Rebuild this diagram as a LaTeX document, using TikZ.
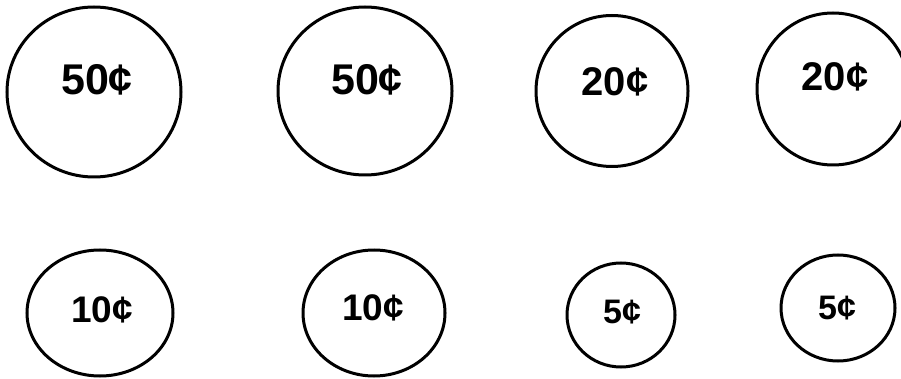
\documentclass[tikz,border=0pt]{standalone}
\usepackage{fontspec}
\setmainfont{Liberation Sans}
\usetikzlibrary{shapes.geometric}
\tikzset{
  coin/.style={draw=black, line width=3pt, ellipse, inner sep=0pt},
  val/.style={font=\bfseries, inner sep=0pt, text=black}
}
\begin{document}
\begin{tikzpicture}[x=1pt,y=-1pt]
\useasboundingbox[fill=white] (0,0) rectangle (901,379);
% top row
\node[coin, minimum width=174pt, minimum height=170pt] (c1) at (94,92) {};
\node[val, font=\fontsize{43}{43}\bfseries\selectfont] (t1) at (97,80) {50¢};
\node[coin, minimum width=174pt, minimum height=168pt] (c2) at (365,91) {};
\node[val, font=\fontsize{43}{43}\bfseries\selectfont] (t2) at (367,80) {50¢};
\node[coin, minimum width=152pt, minimum height=151pt] (c3) at (612,91) {};
\node[val, font=\fontsize{40}{40}\bfseries\selectfont] (t3) at (615,82) {20¢};
\node[coin, minimum width=152pt, minimum height=152pt] (c4) at (833,89) {};
\node[val, font=\fontsize{40}{40}\bfseries\selectfont] (t4) at (835,77) {20¢};
% bottom row
\node[coin, minimum width=146pt, minimum height=126pt] (c5) at (100,313) {};
\node[val, font=\fontsize{37}{37}\bfseries\selectfont] (t5) at (102,310) {10¢};
\node[coin, minimum width=142pt, minimum height=126pt] (c6) at (374,313) {};
\node[val, font=\fontsize{37}{37}\bfseries\selectfont] (t6) at (373,308) {10¢};
\node[coin, minimum width=108pt, minimum height=104pt] (c7) at (621,315) {};
\node[val, font=\fontsize{34}{34}\bfseries\selectfont] (t7) at (622,312) {5¢};
\node[coin, minimum width=114pt, minimum height=106pt] (c8) at (838,308) {};
\node[val, font=\fontsize{34}{34}\bfseries\selectfont] (t8) at (837,308) {5¢};
\end{tikzpicture}
\end{document}
